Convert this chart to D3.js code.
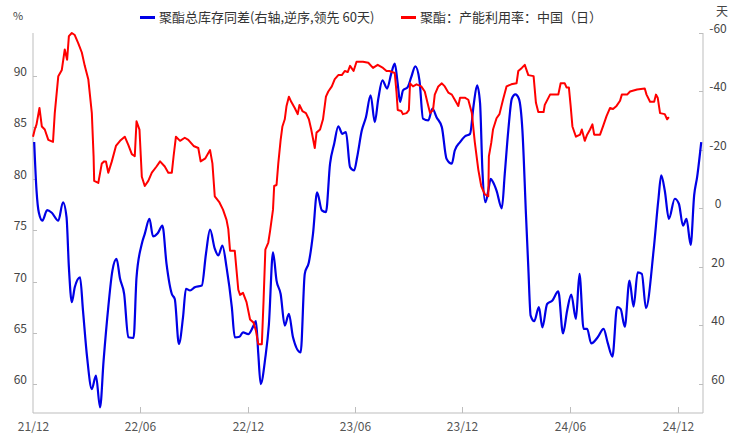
<!DOCTYPE html>
<html><head><meta charset="utf-8">
<script src="https://cdn.jsdelivr.net/npm/d3@7"></script>
<style>
html,body{margin:0;padding:0;background:#fff;}
svg{display:block;font-family:"Noto Sans CJK SC","Noto Sans",sans-serif;}
</style></head>
<body><svg id="c" width="733" height="443"></svg>
<script>
const seriesNames = ["聚酯总库存同差(右轴,逆序,领先 60天)", "聚酯：产能利用率：中国（日）"];
const xTickLabels = ["21/12","22/06","22/12","23/06","23/12","24/06","24/12"];
const xTickDates = ["2021-12-01","2022-06-01","2022-12-01","2023-06-01","2023-12-01","2024-06-01","2024-12-01"];
const leftTicks = [60,65,70,75,80,85,90];
const rightTicks = [-60,-40,-20,0,20,40,60];

// 聚酯：产能利用率 (%), left axis
const redDates = ["2021-12-01","2021-12-04","2021-12-07","2021-12-12","2021-12-16","2021-12-21","2021-12-27","2022-01-04","2022-01-07","2022-01-13","2022-01-19","2022-01-24","2022-01-28","2022-01-31","2022-02-05","2022-02-10","2022-02-16","2022-02-22","2022-02-27","2022-03-05","2022-03-11","2022-03-14","2022-03-15","2022-03-22","2022-03-28","2022-04-01","2022-04-04","2022-04-08","2022-04-14","2022-04-21","2022-04-28","2022-05-06","2022-05-12","2022-05-18","2022-05-23","2022-05-26","2022-05-31","2022-06-04","2022-06-09","2022-06-15","2022-06-21","2022-06-29","2022-07-05","2022-07-13","2022-07-19","2022-07-25","2022-07-28","2022-08-01","2022-08-08","2022-08-16","2022-08-22","2022-08-31","2022-09-08","2022-09-12","2022-09-20","2022-09-28","2022-10-02","2022-10-06","2022-10-14","2022-10-20","2022-10-26","2022-10-29","2022-11-01","2022-11-09","2022-11-15","2022-11-18","2022-11-23","2022-11-29","2022-12-05","2022-12-11","2022-12-15","2022-12-19","2022-12-25","2022-12-28","2022-12-31","2023-01-05","2023-01-08","2023-01-13","2023-01-15","2023-01-19","2023-01-22","2023-01-26","2023-01-29","2023-02-02","2023-02-05","2023-02-09","2023-02-13","2023-02-19","2023-02-24","2023-02-27","2023-03-04","2023-03-10","2023-03-15","2023-03-19","2023-03-25","2023-03-28","2023-04-03","2023-04-08","2023-04-13","2023-04-17","2023-04-23","2023-04-28","2023-05-04","2023-05-10","2023-05-15","2023-05-20","2023-05-24","2023-05-30","2023-06-04","2023-06-15","2023-06-24","2023-07-02","2023-07-10","2023-07-19","2023-07-25","2023-07-30","2023-08-08","2023-08-11","2023-08-13","2023-08-19","2023-08-22","2023-08-28","2023-09-01","2023-09-03","2023-09-08","2023-09-14","2023-09-22","2023-09-28","2023-10-04","2023-10-07","2023-10-12","2023-10-15","2023-10-21","2023-10-27","2023-11-01","2023-11-07","2023-11-13","2023-11-18","2023-11-24","2023-11-27","2023-12-05","2023-12-11","2023-12-17","2023-12-22","2023-12-28","2024-01-02","2024-01-08","2024-01-14","2024-01-15","2024-01-19","2024-01-22","2024-01-28","2024-02-02","2024-02-08","2024-02-14","2024-02-22","2024-03-02","2024-03-05","2024-03-11","2024-03-16","2024-03-22","2024-03-31","2024-04-04","2024-04-08","2024-04-17","2024-04-19","2024-04-28","2024-05-12","2024-05-16","2024-05-23","2024-05-26","2024-05-30","2024-06-02","2024-06-05","2024-06-11","2024-06-18","2024-06-21","2024-06-26","2024-06-30","2024-07-05","2024-07-09","2024-07-12","2024-07-22","2024-07-27","2024-08-02","2024-08-08","2024-08-13","2024-08-19","2024-08-25","2024-08-28","2024-09-06","2024-09-11","2024-09-23","2024-10-06","2024-10-09","2024-10-15","2024-10-22","2024-10-25","2024-10-28","2024-11-01","2024-11-09","2024-11-13","2024-11-16"];
const redValues = [84.1,84.8,85.3,86.9,85.1,84.8,83.8,83.6,86.4,90.0,90.6,92.6,91.6,93.9,94.2,94.0,93.2,92.3,91.0,89.7,86.4,82.2,79.8,79.6,81.5,81.7,81.7,80.6,81.7,83.2,83.7,84.1,83.3,82.4,82.2,85.6,84.8,80.2,79.3,79.8,80.6,81.2,81.7,81.2,80.6,80.6,82.2,84.1,83.7,84.0,83.8,83.2,83.0,81.7,82.0,82.8,81.5,78.3,77.7,77.0,76.0,75.1,73.0,73.0,69.2,68.7,68.9,68.0,66.3,66.0,65.2,63.9,63.9,68.2,73.1,73.8,74.9,77.0,79.3,79.4,81.5,83.8,85.1,85.8,87.1,88.0,87.5,86.9,86.3,87.2,86.6,86.4,85.8,84.8,83.0,84.5,84.8,85.8,88.0,88.5,89.0,89.7,90.1,90.1,90.5,90.4,91.0,90.5,91.4,91.4,91.3,90.8,91.1,90.8,90.5,90.5,90.3,88.4,86.7,86.6,86.3,86.4,86.7,89.3,89.0,89.2,89.0,88.5,87.1,86.4,86.7,88.2,89.0,89.3,89.0,88.4,88.2,87.7,87.1,87.9,87.9,87.7,86.4,83.6,80.9,79.3,78.5,78.3,82.2,83.5,84.8,85.9,86.3,87.7,89.0,89.2,89.3,90.5,90.8,91.1,90.1,90.0,87.4,86.5,86.5,87.2,88.2,88.2,89.3,89.3,88.9,88.9,87.1,85.1,84.1,84.3,84.8,83.7,84.3,84.8,85.3,84.3,84.3,85.1,86.1,86.9,86.8,87.1,87.6,88.2,88.2,88.5,88.7,88.8,88.2,87.5,87.5,88.2,87.9,86.4,86.3,85.8,86.0];

// 聚酯总库存同差 (天), right axis reversed, lead 60 days
const blueDates = ["2021-12-03","2021-12-07","2021-12-11","2021-12-17","2021-12-25","2022-01-02","2022-01-13","2022-01-21","2022-01-27","2022-01-31","2022-02-05","2022-02-10","2022-02-19","2022-02-24","2022-03-03","2022-03-11","2022-03-18","2022-03-25","2022-03-31","2022-04-08","2022-04-15","2022-04-22","2022-04-28","2022-05-05","2022-05-12","2022-05-21","2022-05-26","2022-06-04","2022-06-09","2022-06-17","2022-06-23","2022-07-01","2022-07-09","2022-07-16","2022-07-25","2022-07-30","2022-08-06","2022-08-13","2022-08-18","2022-08-25","2022-09-02","2022-09-14","2022-09-21","2022-09-28","2022-10-06","2022-10-12","2022-10-19","2022-10-26","2022-11-04","2022-11-09","2022-11-17","2022-11-23","2022-12-02","2022-12-11","2022-12-15","2022-12-19","2022-12-23","2022-12-31","2023-01-06","2023-01-13","2023-01-19","2023-01-26","2023-02-02","2023-02-09","2023-02-16","2023-03-01","2023-03-08","2023-03-15","2023-03-22","2023-03-29","2023-04-06","2023-04-13","2023-04-20","2023-04-27","2023-05-04","2023-05-11","2023-05-17","2023-05-24","2023-05-31","2023-06-05","2023-06-13","2023-06-20","2023-06-28","2023-07-05","2023-07-11","2023-07-18","2023-07-26","2023-08-02","2023-08-08","2023-08-13","2023-08-17","2023-08-22","2023-08-30","2023-09-05","2023-09-12","2023-09-19","2023-09-25","2023-10-04","2023-10-11","2023-10-18","2023-10-27","2023-11-04","2023-11-13","2023-11-18","2023-11-27","2023-12-05","2023-12-14","2023-12-20","2023-12-26","2023-12-31","2024-01-04","2024-01-09","2024-01-14","2024-01-18","2024-01-22","2024-01-28","2024-02-06","2024-02-11","2024-02-17","2024-02-23","2024-02-29","2024-03-06","2024-03-12","2024-03-18","2024-03-22","2024-03-26","2024-04-01","2024-04-09","2024-04-15","2024-04-23","2024-05-02","2024-05-12","2024-05-20","2024-05-27","2024-06-03","2024-06-11","2024-06-17","2024-06-24","2024-06-30","2024-07-07","2024-07-18","2024-07-28","2024-08-04","2024-08-12","2024-08-20","2024-08-26","2024-09-02","2024-09-10","2024-09-17","2024-09-24","2024-10-01","2024-10-08","2024-10-21","2024-10-29","2024-11-03","2024-11-09","2024-11-16","2024-11-26","2024-12-03","2024-12-10","2024-12-16","2024-12-23","2024-12-29","2025-01-03","2025-01-10"];
const blueValues = [-22.7,-6.1,1.5,4.2,0.6,1.5,4.2,-2.1,3.0,20.1,32.1,27.0,23.6,35.0,51.0,61.8,57.2,68.1,52.1,33.8,21.3,17.3,24.1,29.3,44.1,44.3,23.6,12.1,8.7,3.6,9.6,8.5,5.9,19.0,29.3,31.0,46.4,37.3,27.5,28.1,27.0,26.4,15.6,7.3,13.8,16.1,12.7,20.1,33.8,44.1,43.9,42.4,43.0,40.1,38.6,49.8,60.1,51.0,39.8,15.0,24.7,29.3,40.1,36.1,44.1,49.3,22.4,18.4,8.7,-5.5,0.7,1.3,-15.3,-22.1,-28.1,-25.5,-26.1,-14.1,-13.0,-17.5,-26.7,-31.2,-38.7,-29.5,-37.5,-43.8,-41.0,-46.1,-49.5,-42.7,-36.4,-40.4,-41.5,-44.9,-48.6,-43.8,-30.7,-30.1,-34.1,-31.2,-27.8,-17.0,-15.3,-19.8,-22.7,-24.6,-25.5,-35.2,-42.1,-36.0,-13.0,-2.1,-6.1,-10.1,-9.0,-6.1,0.0,-11.8,-26.7,-37.5,-39.0,-37.5,-26.7,1.9,20.1,36.7,38.6,33.8,40.7,32.7,31.5,28.4,42.8,35.0,29.5,37.8,22.4,41.2,41.2,46.2,44.1,41.2,46.0,50.7,33.8,34.4,40.5,24.7,33.6,21.9,22.4,34.1,14.4,-2.7,-11.3,-6.1,3.6,-3.3,-1.6,5.9,3.6,12.5,-4.5,-10.7,-22.7];

const parse = d3.timeParse("%Y-%m-%d");
const svg = d3.select("#c");
const L = 33, R = 703, T = 33, B = 413;
const axisColor = "#bdbdbd", textColor = "#444";

const x = d3.scaleTime().domain([parse("2021-12-01"), parse("2025-01-13")]).range([L, R]);
const yL = d3.scaleLinear().domain([57.2, 94.2]).range([B, T]);
const yR = d3.scaleLinear().domain([-60, 70]).range([T, B]);

// axes
const g = svg.append("g");
g.append("line").attr("x1",L).attr("x2",L).attr("y1",T).attr("y2",B).attr("stroke",axisColor);
g.append("line").attr("x1",R).attr("x2",R).attr("y1",T).attr("y2",B).attr("stroke",axisColor);
g.append("line").attr("x1",L).attr("x2",R).attr("y1",B).attr("y2",B).attr("stroke",axisColor);

leftTicks.forEach(v => {
  const yy = Math.round(yL(v)) + 0.5;
  g.append("line").attr("x1",L).attr("x2",L+4).attr("y1",yy).attr("y2",yy).attr("stroke",axisColor);
  g.append("text").attr("x",27).attr("y",yy-1).attr("text-anchor","end")
    .attr("font-size",12).attr("fill",textColor).text(v);
});
rightTicks.forEach(v => {
  const yy = Math.round(yR(v)) + 0.5;
  g.append("line").attr("x1",R-4).attr("x2",R).attr("y1",yy).attr("y2",yy).attr("stroke",axisColor);
  g.append("text").attr("x",718).attr("y",yy-0.5).attr("text-anchor","middle")
    .attr("font-size",12).attr("fill",textColor).text(v);
});
xTickDates.forEach((d,i) => {
  const xx = Math.round(x(parse(d))) + 0.5;
  if (i > 0) g.append("line").attr("x1",xx).attr("x2",xx).attr("y1",B-6).attr("y2",B).attr("stroke",axisColor);
  g.append("text").attr("x",xx).attr("y",431).attr("text-anchor","middle")
    .attr("font-size",12).attr("fill","#555").text(xTickLabels[i]);
});

svg.append("text").attr("x",13).attr("y",20).attr("font-size",11).attr("fill",textColor).text("%");
svg.append("text").attr("x",716).attr("y",15.5).attr("font-size",12).attr("fill",textColor).text("天");

// lines
const blueData = blueDates.map((d,i)=>({d:parse(d), v:blueValues[i]}));
const redData = redDates.map((d,i)=>({d:parse(d), v:redValues[i]}));

svg.append("path").datum(blueData)
  .attr("fill","none").attr("stroke","#0000e6").attr("stroke-width",2.2)
  .attr("d", d3.line().x(p=>x(p.d)).y(p=>yR(p.v)).curve(d3.curveMonotoneX));
svg.append("path").datum(redData)
  .attr("fill","none").attr("stroke","#ff0000").attr("stroke-width",2)
  .attr("stroke-linejoin","round")
  .attr("d", d3.line().x(p=>x(p.d)).y(p=>yL(p.v)));

// legend
const lg = svg.append("g");
lg.append("line").attr("x1",140).attr("x2",155).attr("y1",17.5).attr("y2",17.5).attr("stroke","#0000e6").attr("stroke-width",3);
lg.append("text").attr("x",159).attr("y",22).attr("font-size",13).attr("fill","#333").text(seriesNames[0]);
lg.append("line").attr("x1",401).attr("x2",416).attr("y1",17.5).attr("y2",17.5).attr("stroke","#ff0000").attr("stroke-width",3);
lg.append("text").attr("x",420).attr("y",22).attr("font-size",13).attr("fill","#333").text(seriesNames[1]);
</script>
</body></html>
